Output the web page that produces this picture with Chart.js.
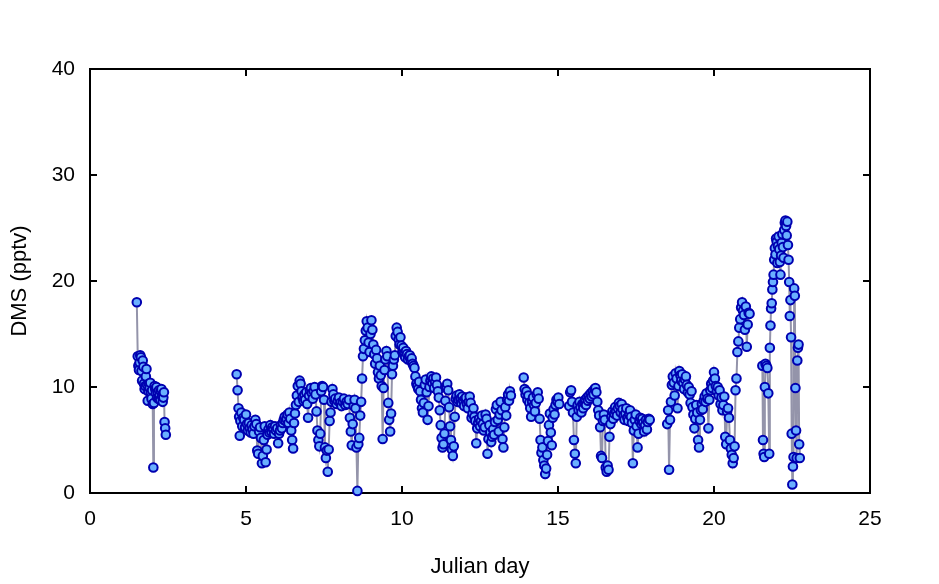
<!DOCTYPE html>
<html>
<head>
<meta charset="utf-8">
<script src="https://cdn.jsdelivr.net/npm/chart.js@4.4.0/dist/chart.umd.min.js"></script>
<style>
  html, body { margin: 0; padding: 0; background: #fff; }
  #wrap { width: 939px; height: 584px; }
</style>
</head>
<body>
<div id="wrap"><canvas id="dmsChart"></canvas></div>
<script>
// Julian day of each sample (null entries split the record into separate runs)
const days = [
  1.50, 1.53, 1.55, 1.57, 1.59, 1.61, 1.63, 1.65, 1.67, 1.69, 1.71, 1.73, 1.75, 1.77, 1.79, 1.81,
  1.83, 1.85, 1.87, 1.89, 1.91, 1.93, 1.95, 1.97, 1.99, 2.01, 2.03, 2.05, 2.07, 2.09, 2.11, 2.13,
  2.15, 2.17, 2.19, 2.21, 2.23, 2.25, 2.27, 2.29, 2.31, 2.33, 2.35, 2.37, 2.39, 2.41, 2.43,
  3.50,
  4.70, 4.73, 4.76, 4.78, 4.80, 4.82, 4.85, 4.88, 4.91, 4.94, 4.97, 5.00, 5.03, 5.06, 5.09, 5.12,
  5.15, 5.18, 5.21, 5.24, 5.27, 5.30, 5.33, 5.36, 5.39, 5.42, 5.45, 5.48, 5.51, 5.54, 5.57, 5.60,
  5.63, 5.66, 5.69, 5.72, 5.75, 5.78, 5.81, 5.84, 5.87, 5.90, 5.93, 5.96, 6.00, 6.03, 6.06, 6.09,
  6.12, 6.15, 6.18, 6.21, 6.24, 6.27, 6.30, 6.33, 6.36, 6.39, 6.42, 6.45, 6.48, 6.51, 6.54, 6.57,
  6.60, 6.63, 6.66, 6.69, 6.72, 6.75, 6.78, 6.81, 6.84, 6.87, 6.90, 6.93, 6.96, 6.99, 7.02, 7.05,
  7.08, 7.11, 7.14, 7.17, 7.20, 7.23, 7.26, 7.29, 7.32, 7.35, 7.38, 7.41, 7.44, 7.47, 7.50, 7.53,
  7.56, 7.59, 7.62, 7.65, 7.68, 7.71, 7.74, 7.77, 7.80, 7.83, 7.86, 7.90, 7.94, 7.98, 8.02, 8.06,
  8.10, 8.14, 8.18, 8.22, 8.26, 8.30, 8.33, 8.36, 8.39, 8.42, 8.45, 8.48, 8.51, 8.54, 8.57, 8.60,
  8.63, 8.66, 8.69, 8.72,
  8.75, 8.78, 8.81, 8.84, 8.87, 8.90, 8.93, 8.96, 8.99, 9.02, 9.05, 9.08, 9.11, 9.14, 9.17, 9.20,
  9.23, 9.26, 9.29, 9.32, 9.35, 9.38, 9.41, 9.44, 9.47, 9.50, 9.53, 9.56, 9.59, 9.62, 9.65, 9.68,
  9.71, 9.74, 9.77, 9.80, 9.83, 9.86, 9.89, 9.92, 9.95, 9.98, 10.01, 10.04, 10.07, 10.10, 10.13, 10.16,
  10.19, 10.22, 10.25, 10.28, 10.31, 10.34, 10.37, 10.40, 10.43, 10.46, 10.49, 10.52, 10.55, 10.58, 10.61, 10.64,
  10.67, 10.70, 10.73, 10.76, 10.79, 10.82, 10.85, 10.88, 10.91, 10.94, 10.97, 11.00, 11.03, 11.06, 11.09, 11.12,
  11.15, 11.18, 11.21, 11.24, 11.27, 11.30, 11.33, 11.36, 11.39, 11.42, 11.45, 11.48, 11.51, 11.54, 11.57, 11.60,
  11.63, 11.66, 11.69, 11.72, 11.75, 11.78, 11.81, 11.84, 11.87, 11.90, 11.93, 11.96, 11.99, 12.02, 12.05, 12.08,
  12.11, 12.14, 12.17, 12.20, 12.23, 12.26, 12.29, 12.32, 12.35, 12.38, 12.41, 12.44, 12.47, 12.50, 12.53, 12.56,
  12.59, 12.62, 12.65, 12.68, 12.71, 12.74, 12.77, 12.80, 12.83, 12.86, 12.89, 12.92, 12.95, 12.98,
  13.01, 13.04, 13.07, 13.10, 13.13, 13.16, 13.19, 13.22, 13.25, 13.28, 13.31, 13.34, 13.37, 13.40, 13.43, 13.46,
  13.49,
  13.70,
  13.90, 13.93, 13.96, 13.99, 14.02, 14.05, 14.08, 14.11, 14.14, 14.17, 14.20, 14.23, 14.26, 14.29, 14.32, 14.35,
  14.38, 14.41, 14.44, 14.47, 14.50, 14.53, 14.56, 14.59, 14.62, 14.65, 14.68, 14.71, 14.74, 14.77, 14.80, 14.83,
  14.86, 14.89, 14.92, 14.95, 14.98, 15.01, 15.04,
  15.36, 15.39, 15.42, 15.45, 15.48, 15.51, 15.54, 15.57, 15.60, 15.63, 15.66, 15.69, 15.72, 15.75, 15.78, 15.81,
  15.84, 15.87, 15.90, 15.93, 15.96, 15.99, 16.02, 16.05, 16.08, 16.11, 16.14, 16.17, 16.20, 16.23, 16.26, 16.29,
  16.32, 16.35, 16.38, 16.41, 16.44, 16.47, 16.50, 16.53, 16.56, 16.59, 16.62, 16.65, 16.68, 16.71, 16.74, 16.77,
  16.80, 16.83, 16.86, 16.89, 16.92, 16.95, 16.98, 17.01, 17.04, 17.07, 17.10, 17.13, 17.16, 17.19, 17.22, 17.25,
  17.28, 17.31, 17.34, 17.37, 17.40, 17.43, 17.46, 17.49, 17.52, 17.55, 17.58, 17.61, 17.64, 17.67, 17.70, 17.73,
  17.76, 17.79, 17.82, 17.85, 17.88, 17.91, 17.94,
  18.20,
  18.50, 18.53, 18.56, 18.59, 18.62, 18.65, 18.68, 18.71, 18.74, 18.77, 18.80, 18.83, 18.86, 18.89, 18.92, 18.95,
  18.98, 19.01, 19.04, 19.07, 19.10, 19.13, 19.16, 19.19, 19.22, 19.25, 19.28, 19.31, 19.34, 19.37, 19.40, 19.43,
  19.46, 19.49, 19.52, 19.55, 19.58, 19.61, 19.64, 19.67, 19.70, 19.73, 19.76, 19.79, 19.82, 19.85, 19.88, 19.91,
  19.94, 19.97, 20.00, 20.03, 20.06, 20.09, 20.12, 20.15, 20.18, 20.21, 20.24, 20.27, 20.30, 20.33, 20.36, 20.39,
  20.42, 20.45, 20.48, 20.51, 20.54, 20.57, 20.60, 20.63, 20.66, 20.69, 20.72, 20.75, 20.78, 20.81, 20.84, 20.87,
  20.90, 20.93, 20.96, 20.99, 21.02, 21.05, 21.08, 21.11, 21.14,
  21.35,
  21.55, 21.57, 21.59, 21.61, 21.63, 21.65, 21.68, 21.71, 21.74, 21.77, 21.79, 21.81, 21.83, 21.85, 21.87, 21.89,
  21.91, 21.93, 21.95, 21.97, 21.99, 22.01, 22.03, 22.05, 22.07, 22.09, 22.11, 22.13, 22.15, 22.17, 22.19, 22.21,
  22.23, 22.25, 22.27, 22.29, 22.31, 22.33, 22.35, 22.37, 22.39, 22.41, 22.43, 22.45, 22.47, 22.49, 22.51, 22.53,
  22.55, 22.57, 22.59, 22.61, 22.63, 22.65, 22.67, 22.69, 22.71, 22.73, 22.75
];

// DMS mixing ratio (pptv), one per day above
const dms = [
  18.0, 12.9, 12.0, 11.6, 12.3, 13.0, 12.8, 11.5, 10.6, 12.5, 11.9, 10.3, 9.8, 10.1, 11.0, 11.7,
  10.2, 8.7, 9.6, 10.3, 9.9, 10.4, 9.5, 8.9, 9.7, 8.4, 2.4, 8.5, 10.1, 9.8, 9.4, 10.0,
  9.0, 9.5, 8.9, 9.7, 9.2, 8.8, 9.6, 9.8, 9.1, 8.6, 9.0, 9.5, 6.7, 6.1, 5.5,
  null,
  11.2, 9.7, 8.0, 7.2, 5.4, 6.8, 7.6, 6.3, 7.1, 6.9, 6.2, 7.4, 6.5, 5.9, 6.6, 6.1,
  5.7, 6.4, 6.0, 5.6, 6.3, 6.9, 6.5, 4.0, 3.7, 5.8, 6.2, 5.2, 2.8, 3.5, 5.0, 6.3,
  2.9, 4.1, 5.5, 6.0, 5.7, 6.4, 5.8, 6.2, 6.0, 5.6, 6.3, 5.9, 6.1, 4.7, 5.6, 5.9,
  6.4, 6.1, 6.6, 6.9, 7.2, 6.8, 7.0, 7.4, 6.6, 7.6, 7.0, 5.9, 5.0, 4.2, 6.6, 7.5,
  8.3, 9.2, 10.1, 8.6, 10.6, 10.3, 9.6, 9.0, 8.7, 9.3, 8.8, 9.5, 8.4, 7.1, 9.2, 9.7,
  9.9, 9.4, 8.9, 9.6, 10.0, 9.3, 7.7, 5.9, 5.0, 4.4, 5.6, 9.6, 10.1, 10.0, 8.8, 4.3,
  3.3, 4.0, 2.0, 4.1, 6.8, 7.6, 8.6, 9.8, 9.3, 8.7, 8.9, 8.4, 8.7, 9.0, 8.5, 8.2,
  8.6, 8.9, 8.3, 8.6, 8.4, 8.8, 7.1, 5.8, 4.5, 6.5, 8.2, 8.8, 8.0, 4.3, 0.2, 4.6,
  5.2, 7.3, 8.6, 10.8,
  12.9, 13.6, 14.4, 15.3, 16.2, 15.6, 14.2, 13.3, 15.0, 16.3, 15.4, 14.0, 13.1, 12.2, 13.5, 12.7,
  11.4, 10.8, 12.0, 11.1, 10.1, 5.1, 9.9, 11.6, 12.6, 13.4, 12.9, 8.5, 6.9, 5.8, 7.5, 11.2,
  12.0, 12.6, 13.0, 14.8, 15.6, 15.2, 14.5, 14.0, 14.7, 13.9, 13.3, 13.7, 13.2, 12.8, 13.4, 13.1,
  12.6, 12.9, 13.0, 12.5, 12.7, 12.2, 12.0, 11.8, 11.0, 10.3, 10.1, 9.8, 10.5, 9.6, 8.8, 8.0,
  7.6, 8.5, 10.2, 10.7, 9.5, 6.9, 8.2, 10.0, 10.6, 11.0, 10.4, 10.8, 9.9, 10.5, 10.9, 10.2,
  9.6, 9.0, 7.8, 6.4, 5.2, 4.3, 4.6, 5.6, 8.7, 9.9, 10.3, 9.7, 8.1, 6.3, 5.0, 4.1,
  3.5, 4.4, 7.2, 8.9, 9.2, 8.6, 8.8, 9.3, 8.9, 8.5, 9.1, 8.7, 8.2, 8.9, 9.0, 8.4,
  8.0, 8.6, 9.1, 8.5, 7.1, 7.5, 8.0, 7.2, 6.8, 4.7, 6.1, 6.6, 7.0, 6.3, 6.8, 7.3,
  6.5, 5.9, 6.2, 7.4, 7.0, 3.7, 5.1, 6.4, 5.7, 4.8, 5.3, 6.0, 5.5, 6.7,
  7.9, 8.3, 6.9, 5.8, 7.4, 8.6, 7.8, 5.1, 4.3, 6.2, 8.1, 7.3, 8.8, 9.3, 8.7, 9.6,
  9.2,
  null,
  10.9, 9.8, 9.3, 9.6, 8.8, 9.2, 8.5, 8.0, 7.2, 8.6, 9.0, 8.3, 7.7, 8.5, 9.3, 9.5,
  8.9, 7.0, 5.0, 3.8, 4.3, 3.1, 2.6, 1.8, 2.3, 3.6, 4.9, 6.4, 7.5, 5.7, 4.5, 7.1,
  7.9, 7.4, 8.3, 8.8, 8.6, 9.0, 8.4,
  8.2, 9.5, 9.7, 8.6, 7.6, 5.0, 3.7, 2.8, 7.2, 8.3, 7.8, 8.6, 8.1, 7.6, 8.4, 8.0,
  8.5, 8.8, 8.3, 9.0, 8.7, 9.2, 8.9, 9.4, 9.1, 9.6, 9.3, 9.8, 9.9, 9.5, 8.6, 7.8,
  7.3, 6.2, 3.5, 3.3, 6.8, 7.4, 6.9, 2.4, 2.0, 2.6, 2.2, 5.3, 6.5, 7.2, 7.7, 7.0,
  7.5, 8.1, 7.7, 7.3, 8.0, 8.5, 8.2, 7.6, 8.4, 7.9, 7.3, 6.9, 7.5, 8.0, 7.1, 6.8,
  7.4, 7.8, 7.2, 6.6, 2.8, 5.9, 6.9, 7.4, 6.3, 4.3, 5.6, 6.8, 7.1, 6.5, 7.0, 6.6,
  5.8, 6.4, 6.9, 6.0, 6.7, 7.0, 6.9,
  null,
  6.5, 7.8, 2.2, 6.9, 8.6, 10.2, 11.0, 10.4, 9.2, 11.3, 10.8, 8.0, 10.1, 11.5, 11.1, 10.6,
  11.2, 10.4, 9.8, 10.7, 11.0, 10.2, 9.5, 10.0, 9.3, 8.5, 9.6, 8.1, 7.4, 6.1, 7.0, 8.3,
  7.6, 5.0, 4.3, 6.9, 7.8, 8.4, 7.9, 8.7, 9.1, 8.6, 9.4, 8.9, 6.1, 8.8, 9.7, 10.3,
  9.9, 10.6, 11.4, 10.8, 10.1, 9.6, 10.0, 9.2, 9.7, 8.4, 9.0, 7.8, 8.3, 9.1, 5.3, 4.6,
  7.7, 8.0, 7.1, 5.0, 4.2, 3.6, 2.8, 3.3, 4.4, 9.7, 10.8, 13.3, 14.3, 15.6, 16.4, 17.5,
  18.0, 17.2, 16.8, 15.4, 17.6, 13.8, 15.9, 17.0, 16.9,
  null,
  12.0, 5.0, 3.7, 3.4, 10.0, 12.2, 12.0, 11.8, 9.4, 3.7, 13.7, 15.8, 17.4, 17.9, 19.2, 19.9,
  20.6, 22.0, 23.1, 22.5, 24.0, 23.7, 21.7, 23.3, 24.2, 23.0, 21.8, 20.6, 22.4, 23.6, 24.4, 23.2,
  22.2, 24.8, 25.5, 25.7, 25.2, 24.3, 25.6, 23.4, 22.0, 19.9, 16.7, 18.2, 14.7, 5.6, 0.8, 2.5,
  3.4, 19.3, 18.6, 9.9, 5.9, 3.3, 12.5, 13.7, 14.0, 4.6, 3.3
];

const xTicks = [0, 5, 10, 15, 20, 25];
const yTicks = [0, 10, 20, 30, 40];

const points = days.map((d, i) => ({ x: d, y: dms[i] }));

// frame round the plot, tick marks pointing inwards; drawn under the data
const frameTicks = {
  id: 'frameTicks',
  beforeDatasetsDraw(chart) {
    const { ctx, chartArea: a, scales } = chart;
    const len = 7;
    ctx.save();
    ctx.strokeStyle = '#000';
    ctx.lineWidth = 2;
    ctx.strokeRect(a.left, a.top, a.right - a.left, a.bottom - a.top);
    ctx.beginPath();
    xTicks.forEach(v => {
      const px = Math.round(scales.x.getPixelForValue(v));
      ctx.moveTo(px, a.bottom); ctx.lineTo(px, a.bottom - len);
      ctx.moveTo(px, a.top); ctx.lineTo(px, a.top + len);
    });
    yTicks.forEach(v => {
      const py = Math.round(scales.y.getPixelForValue(v));
      ctx.moveTo(a.left, py); ctx.lineTo(a.left + len, py);
      ctx.moveTo(a.right, py); ctx.lineTo(a.right - len, py);
    });
    ctx.stroke();
    ctx.restore();
  }
};

const tickFont = { family: "'Liberation Sans', Arial, sans-serif", size: 21 };
const titleFont = { family: "'Liberation Sans', Arial, sans-serif", size: 22 };

new Chart(document.getElementById('dmsChart'), {
  type: 'line',
  data: {
    datasets: [{
      data: points,
      spanGaps: false,
      borderColor: '#9494aa',
      borderWidth: 2,
      pointRadius: 4.3,
      pointBorderWidth: 2,
      pointBackgroundColor: '#6ab0ff',
      pointBorderColor: '#0000b0',
      tension: 0,
      clip: false
    }]
  },
  options: {
    responsive: true,
    maintainAspectRatio: false,
    animation: false,
    layout: { padding: { top: 69, right: 69, left: 0, bottom: 0 } },
    plugins: { legend: { display: false }, tooltip: { enabled: false } },
    scales: {
      x: {
        type: 'linear',
        min: 0, max: 25,
        afterBuildTicks: s => { s.ticks = xTicks.map(v => ({ value: v })); },
        afterFit: s => { s.height = 91; },
        grid: { display: true, drawOnChartArea: false, drawTicks: false },
        border: { display: false },
        ticks: { color: '#000', font: tickFont, padding: 14, maxRotation: 0 },
        title: { display: true, text: 'Julian day', color: '#000', font: titleFont, padding: { top: 0, bottom: 4 } }
      },
      y: {
        min: 0, max: 40,
        afterBuildTicks: s => { s.ticks = yTicks.map(v => ({ value: v })); },
        afterFit: s => { s.width = 90; },
        grid: { display: true, drawOnChartArea: false, drawTicks: false },
        border: { display: false },
        ticks: { color: '#000', font: tickFont, padding: 15 },
        title: { display: true, text: 'DMS (pptv)', color: '#000', font: titleFont, padding: { top: 7, bottom: 0 } }
      }
    }
  },
  plugins: [frameTicks]
});
</script>
</body>
</html>
